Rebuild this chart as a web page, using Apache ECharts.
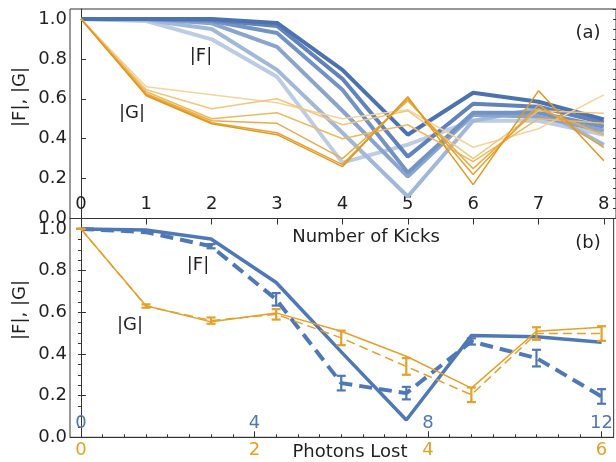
<!DOCTYPE html>
<html><head><meta charset="utf-8">
<script src="https://cdn.jsdelivr.net/npm/echarts@6/dist/echarts.min.js"></script>
<style>html,body{margin:0;padding:0;background:#fff}#c{width:616px;height:462px}</style>
</head><body><div id="c"></div>
<script>
// ---- data ----
const kicks = [0, 1, 2, 3, 4, 5, 6, 7, 8];
// panel (a): |F| curves, darkest to lightest
const topF1 = [1.0, 1.0, 1.0, 0.98, 0.745, 0.42, 0.63, 0.585, 0.497];
const topF2 = [1.0, 1.0, 0.995, 0.965, 0.70, 0.31, 0.575, 0.56, 0.48];
const topF3 = [1.0, 1.0, 0.99, 0.93, 0.645, 0.23, 0.53, 0.53, 0.46];
const topF4 = [1.0, 1.0, 0.978, 0.86, 0.54, 0.21, 0.52, 0.51, 0.44];
const topF5 = [1.0, 0.995, 0.95, 0.745, 0.43, 0.11, 0.49, 0.55, 0.37];
const topF6 = [1.0, 0.99, 0.898, 0.71, 0.28, 0.37, 0.49, 0.49, 0.42];
// panel (a): |G| curves, darkest to lightest
const topG1 = [1.0, 0.615, 0.475, 0.42, 0.26, 0.61, 0.17, 0.64, 0.29];
const topG2 = [1.0, 0.62, 0.48, 0.43, 0.27, 0.60, 0.22, 0.57, 0.355];
const topG3 = [1.0, 0.625, 0.49, 0.477, 0.30, 0.59, 0.25, 0.55, 0.42];
const topG4 = [1.0, 0.635, 0.50, 0.53, 0.40, 0.47, 0.285, 0.50, 0.477];
const topG5 = [1.0, 0.645, 0.55, 0.60, 0.47, 0.54, 0.30, 0.54, 0.527];
const topG6 = [1.0, 0.66, 0.62, 0.58, 0.50, 0.545, 0.357, 0.45, 0.62];
// panel (b)
const botFsolid = [1.0, 0.995, 0.952, 0.743, 0.41, 0.083, 0.488, 0.482, 0.456];
const botFdash = [1.0, 0.985, 0.917, 0.662, 0.26, 0.212, 0.46, 0.38, 0.196];
const botFdashErr = [0.0, 0.005, 0.01, 0.03, 0.035, 0.03, 0.015, 0.04, 0.035];
const botGsolid = [1.0, 0.631, 0.554, 0.597, 0.509, 0.389, 0.236, 0.509, 0.528];
const botGdash = [1.0, 0.63, 0.56, 0.59, 0.477, 0.34, 0.204, 0.498, 0.498];
const botGdashErr = [0.0, 0.008, 0.015, 0.025, 0.035, 0.04, 0.035, 0.03, 0.035];
// tick labels
const kickTicks = [0, 1, 2, 3, 4, 5, 6, 7, 8];
const yTicks = [0, 0.2, 0.4, 0.6, 0.8, 1.0];
const photonTicksBlue = [0, 4, 8, 12];
const photonTicksOrange = [0, 2, 4, 6];

// ---- styles ----
const FONT = 'DejaVu Sans';
const FS = 18;
const TXT = '#231f20';
const BLUE = 'rgb(79,120,184)';
const ORANGE = 'rgb(230,160,40)';
const blueShades = ['rgb(76,114,176)', 'rgb(96,131,188)', 'rgb(116,147,197)', 'rgb(137,164,206)', 'rgb(162,184,217)', 'rgb(188,204,228)'];
const orangeShades = ['rgb(226,152,30)', 'rgb(230,162,50)', 'rgb(234,172,70)', 'rgb(238,185,95)', 'rgb(241,198,125)', 'rgb(245,212,155)'];

const XMIN = -0.168, XMAX = 8.186;
const minorY = [];
for (let i = 0; i <= 21; i++) minorY.push(+(i * 0.05).toFixed(2));
const minorX = [];
for (let i = 0; i <= 24; i++) minorX.push(i / 3);

const pairs = arr => kicks.map((k, i) => [k, arr[i]]);
const triples = (arr, err) => kicks.map((k, i) => [k, arr[i], err[i]]);

const labelStyle = { fontFamily: FONT, fontSize: FS, color: TXT };

function yAxes(grid) {
  return [
    { gridIndex: grid, type: 'value', min: 0, max: 1.05,
      axisLine: { show: true, lineStyle: { color: '#333', width: 1 } },
      axisTick: { show: true, inside: true, length: 5, customValues: yTicks, lineStyle: { color: '#333' } },
      axisLabel: Object.assign({ customValues: yTicks, margin: 3, formatter: v => v.toFixed(1) }, labelStyle),
      splitLine: { show: false } },
    { gridIndex: grid, type: 'value', min: 0, max: 1.05,
      axisLine: { show: false },
      axisTick: { show: true, inside: true, length: 3, customValues: minorY, lineStyle: { color: '#333' } },
      axisLabel: { show: false }, splitLine: { show: false } }
  ];
}

function errorBars(xi, yi, data, color) {
  return {
    type: 'custom', xAxisIndex: xi, yAxisIndex: yi, data: data, z: 5,
    renderItem: function (params, api) {
      const x = api.value(0), y = api.value(1), e = api.value(2);
      const t = api.coord([x, y + e]);
      const b = api.coord([x, y - e]);
      const w = 4.5;
      const st = { stroke: color, lineWidth: 2.2 };
      return { type: 'group', children: [
        { type: 'line', shape: { x1: t[0], y1: t[1], x2: b[0], y2: b[1] }, style: st },
        { type: 'line', shape: { x1: t[0] - w, y1: t[1], x2: t[0] + w, y2: t[1] }, style: st },
        { type: 'line', shape: { x1: b[0] - w, y1: b[1], x2: b[0] + w, y2: b[1] }, style: st }
      ] };
    }
  };
}

const series = [];
[topF6, topF5, topF4, topF3, topF2, topF1].forEach((arr, i) => {
  series.push({ type: 'line', xAxisIndex: 0, yAxisIndex: 0, data: pairs(arr), symbol: 'none',
    lineStyle: { width: 4, color: blueShades[5 - i] }, z: 2 });
});
[topG6, topG5, topG4, topG3, topG2, topG1].forEach((arr, i) => {
  series.push({ type: 'line', xAxisIndex: 0, yAxisIndex: 0, data: pairs(arr), symbol: 'none',
    lineStyle: { width: 1.5, color: orangeShades[5 - i] }, z: 3 });
});
series.push({ type: 'line', xAxisIndex: 1, yAxisIndex: 2, data: pairs(botFsolid), symbol: 'none',
  lineStyle: { width: 3.5, color: BLUE }, z: 2 });
series.push({ type: 'line', xAxisIndex: 1, yAxisIndex: 2, data: pairs(botFdash), symbol: 'none',
  lineStyle: { width: 4, color: BLUE, type: [13, 7] }, z: 2 });
series.push({ type: 'line', xAxisIndex: 1, yAxisIndex: 2, data: pairs(botGsolid), symbol: 'none',
  lineStyle: { width: 1.5, color: ORANGE }, z: 3 });
series.push({ type: 'line', xAxisIndex: 1, yAxisIndex: 2, data: pairs(botGdash), symbol: 'none',
  lineStyle: { width: 1.5, color: ORANGE, type: [9, 5] }, z: 3 });
series.push(errorBars(1, 2, triples(botFdash, botFdashErr), BLUE));
series.push(errorBars(1, 2, triples(botGdash, botGdashErr), ORANGE));

const gtext = (txt, x, y, extra) => Object.assign({ type: 'text', x: x, y: y, z: 20,
  style: { text: txt, font: FS + 'px "' + FONT + '"', fill: TXT, align: 'center', verticalAlign: 'middle' } }, extra || {});

const option = {
  animation: false,
  backgroundColor: '#fff',
  grid: [
    { left: 70, top: 9, width: 548, height: 209.5, show: true, borderColor: '#333', borderWidth: 1 },
    { left: 70, top: 218.5, width: 548, height: 218.8, show: true, borderColor: '#333', borderWidth: 1 }
  ],
  xAxis: [
    { gridIndex: 0, type: 'value', min: XMIN, max: XMAX,
      axisLine: { show: true, lineStyle: { color: '#333' } },
      axisTick: { show: true, inside: false, length: 6, customValues: kickTicks, lineStyle: { color: '#333' } },
      axisLabel: Object.assign({ inside: true, margin: 5, customValues: kickTicks }, labelStyle),
      splitLine: { show: false } },
    { gridIndex: 1, type: 'value', min: XMIN, max: XMAX,
      axisLine: { show: true, lineStyle: { color: '#333' } },
      axisTick: { show: true, inside: true, length: 3, customValues: minorX, lineStyle: { color: '#333' } },
      axisLabel: { show: false }, splitLine: { show: false } },
    { gridIndex: 1, type: 'value', min: XMIN * 1.5, max: XMAX * 1.5, position: 'bottom', offset: 0,
      axisLine: { show: false },
      axisTick: { show: true, inside: true, length: 6, customValues: photonTicksBlue, lineStyle: { color: '#333' } },
      axisLabel: Object.assign({}, labelStyle, { inside: true, margin: 5, customValues: photonTicksBlue, color: BLUE }),
      splitLine: { show: false } },
    { gridIndex: 1, type: 'value', min: XMIN * 0.75, max: XMAX * 0.75, position: 'bottom', offset: 0,
      axisLine: { show: false }, axisTick: { show: false },
      axisLabel: Object.assign({}, labelStyle, { inside: false, margin: 4, customValues: photonTicksOrange, color: ORANGE }),
      splitLine: { show: false } }
  ],
  yAxis: yAxes(0).concat(yAxes(1)),
  series: series,
  graphic: [
    gtext('|F|', 201, 56),
    gtext('|G|', 132, 113),
    gtext('(a)', 588, 33),
    gtext('Number of Kicks', 366, 237),
    gtext('(b)', 588, 243),
    gtext('|F|', 198, 265),
    gtext('|G|', 130, 325),
    gtext('Photons Lost', 350, 452),
    gtext('|F|, |G|', 20, 97, { rotation: Math.PI / 2 }),
    gtext('|F|, |G|', 20, 310, { rotation: Math.PI / 2 })
  ]
};
const chart = echarts.init(document.getElementById('c'), null, { renderer: 'canvas' });
chart.setOption(option);
</script></body></html>
